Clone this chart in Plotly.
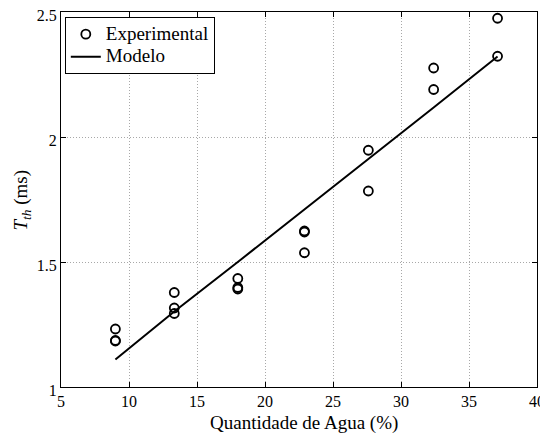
import plotly.graph_objects as go

# experimental points (water content %, threshold time ms)
exp_x = [9.0, 9.0, 9.0, 13.33, 13.33, 13.33, 18.0, 18.0, 18.0, 22.9, 22.9, 22.9,
         27.6, 27.6, 32.4, 32.4, 37.1, 37.1]
exp_y = [1.232, 1.186, 1.184, 1.378, 1.316, 1.294, 1.434, 1.398, 1.392, 1.624, 1.620, 1.537,
         1.947, 1.784, 2.276, 2.190, 2.475, 2.323]

# model curve
mod_x = [9.0, 13.33, 18.0, 22.9, 27.6, 32.4, 37.1]
mod_y = [1.110, 1.302, 1.500, 1.712, 1.912, 2.118, 2.322]

x_ticks = [5, 10, 15, 20, 25, 30, 35, 40]
y_ticks = [1, 1.5, 2, 2.5]

FONT = "Liberation Serif, Times New Roman, serif"

fig = go.Figure()
fig.add_trace(go.Scatter(
    x=exp_x, y=exp_y, mode="markers",
    name="<span style='font-size:19px'>Experimental</span>",
    marker=dict(symbol="circle-open", size=9, color="black", line=dict(width=1.8)),
))
fig.add_trace(go.Scatter(
    x=mod_x, y=mod_y, mode="lines",
    name="<span style='font-size:19px'>Modelo</span>",
    line=dict(color="black", width=2),
))

axis_common = dict(
    showline=True, linecolor="black", linewidth=1, mirror="ticks",
    ticks="inside", ticklen=5, tickcolor="black",
    showgrid=True, gridcolor="#a8a8a8", griddash="1px,2px", gridwidth=1,
    zeroline=False, tickfont=dict(size=16, color="black"), automargin=False,
    ticklabeloverflow="allow",
)

fig.update_xaxes(range=[5, 40], tickvals=x_ticks, ticklabelstandoff=0, **axis_common)
fig.update_yaxes(range=[1, 2.5], tickvals=y_ticks, ticktext=["1", "1.5", "2", "2.5"],
                 ticklabelstandoff=0, ticklabelshift=3, **axis_common)

# axis titles as annotations for exact placement
fig.add_annotation(text="Quantidade de Agua (%)", xref="paper", yref="paper",
                   x=0.51, y=-0.096, xanchor="center", yanchor="middle",
                   showarrow=False, font=dict(size=19, color="black"))
fig.add_annotation(text="<i>T</i><sub><i>th</i></sub> (ms)", xref="paper", yref="paper",
                   x=-0.082, y=0.5, xanchor="center", yanchor="middle", textangle=-90,
                   showarrow=False, font=dict(size=19, color="black"))

# page body keeps an 8px margin, so the figure is 8px smaller than the window
fig.update_layout(
    width=540, height=428,
    margin=dict(l=53, r=11, t=4, b=49),
    paper_bgcolor="white", plot_bgcolor="white",
    font=dict(family=FONT, size=16, color="black"),
    legend=dict(x=0.008, y=0.987, xanchor="left", yanchor="top",
                bgcolor="white", bordercolor="black", borderwidth=1,
                font=dict(size=15), tracegroupgap=0, itemwidth=30),
    showlegend=True,
)

fig.write_html("out.html")
